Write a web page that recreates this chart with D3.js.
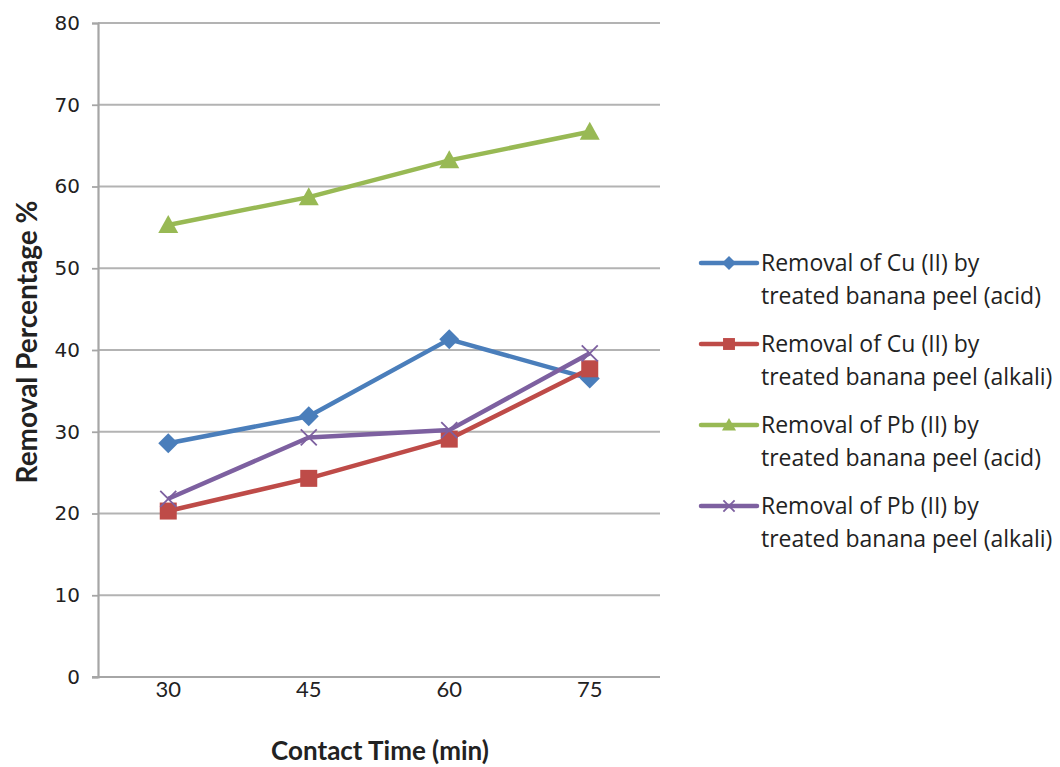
<!DOCTYPE html>
<html lang="en"><head>
<meta charset="utf-8">
<title>Removal percentage vs contact time</title>
<script src="https://cdn.jsdelivr.net/npm/d3@7"></script>
<style>
  body { margin: 0; background: #fff; }
  text { font-family: "Open Sans", "DejaVu Sans", sans-serif; fill: #222; }
</style>
</head>
<body>
<svg id="chart" width="1060" height="767"></svg>
<script>
// data
const times = ["30", "45", "60", "75"];
const cuAcid = [28.6, 31.9, 41.3, 36.5];
const cuAlkali = [20.3, 24.3, 29.1, 37.7];
const pbAcid = [55.3, 58.7, 63.2, 66.7];
const pbAlkali = [21.8, 29.3, 30.2, 39.6];
const seriesNames = [
  ["Removal of Cu (II) by", "treated banana peel (acid)"],
  ["Removal of Cu (II) by", "treated banana peel (alkali)"],
  ["Removal of Pb (II) by", "treated banana peel (acid)"],
  ["Removal of Pb (II) by", "treated banana peel (alkali)"]
];
const yTicks = [0, 10, 20, 30, 40, 50, 60, 70, 80];

const series = [
  {name: seriesNames[0], values: cuAcid, color: "#4a7ebb", shape: "diamond"},
  {name: seriesNames[1], values: cuAlkali, color: "#be4b48", shape: "square"},
  {name: seriesNames[2], values: pbAcid, color: "#98b954", shape: "triangle"},
  {name: seriesNames[3], values: pbAlkali, color: "#7d60a0", shape: "cross"}
];

const svg = d3.select("#chart");
const plotLeft = 98, plotRight = 660, plotTop = 23, plotBottom = 677;

let x = d3.scaleBand().domain(times).range([plotLeft, plotRight]);
let y = d3.scaleLinear().domain([0, 80]).range([plotBottom, plotTop]);

// gridlines
svg.append("g")
  .selectAll("line")
  .data(yTicks.slice(1)).enter()
  .append("line")
  .attr("x1", plotLeft).attr("x2", plotRight)
  .attr("y1", d => y(d)).attr("y2", d => y(d))
  .attr("stroke", "#b3b3b3").attr("stroke-width", 1.8);

// y axis
let yAxis = svg.append("g")
  .attr("transform", `translate(${plotLeft},0)`)
  .call(d3.axisLeft(y).tickValues(yTicks).tickSize(6).tickPadding(12));
yAxis.select(".domain").attr("stroke", "#a6a6a6").attr("stroke-width", 2.2);
yAxis.selectAll(".tick line").attr("stroke", "#a6a6a6").attr("stroke-width", 1.8);
yAxis.selectAll(".tick text")
  .style("font-family", "'DejaVu Sans', sans-serif")
  .style("font-size", "20px").attr("fill", "#333");

// x axis
let xAxis = svg.append("g")
  .attr("transform", `translate(0,${plotBottom})`)
  .call(d3.axisBottom(x).tickSize(0).tickPadding(4));
xAxis.select(".domain").attr("stroke", "#a6a6a6").attr("stroke-width", 2.2)
  .attr("d", `M${plotLeft - 6},0H${plotRight}`);
xAxis.selectAll(".tick text")
  .style("font-family", "Lato, sans-serif")
  .style("font-size", "22px").attr("fill", "#222");

// axis titles
svg.append("text")
  .attr("transform", "translate(37,342) rotate(-90)")
  .attr("text-anchor", "middle")
  .style("font-family", "Lato, sans-serif")
  .style("font-size", "28px").style("font-weight", "bold")
  .text("Removal Percentage %");
svg.append("text")
  .attr("x", 380).attr("y", 760)
  .attr("text-anchor", "middle")
  .style("font-family", "Lato, sans-serif")
  .style("font-size", "26px").style("font-weight", "bold")
  .text("Contact Time (min)");

function marker(g, shape, color, s) {
  if (shape === "diamond") {
    g.append("path").attr("d", `M0,${-s}L${s},0L0,${s}L${-s},0Z`).attr("fill", color);
  } else if (shape === "square") {
    g.append("rect").attr("x", -s * 0.85).attr("y", -s * 0.85)
      .attr("width", s * 1.7).attr("height", s * 1.7).attr("fill", color);
  } else if (shape === "triangle") {
    g.append("path").attr("d", `M0,${-s}L${s},${s * 0.8}L${-s},${s * 0.8}Z`).attr("fill", color);
  } else {
    g.append("path").attr("d", `M${-s * 0.8},${-s * 0.8}L${s * 0.8},${s * 0.8}M${s * 0.8},${-s * 0.8}L${-s * 0.8},${s * 0.8}`)
      .attr("stroke", color).attr("stroke-width", 1.8);
  }
}

let line = d3.line()
  .x((d, i) => x(times[i]) + x.bandwidth() / 2)
  .y(d => y(d));

series.forEach(s => {
  svg.append("path")
    .attr("d", line(s.values))
    .attr("fill", "none")
    .attr("stroke", s.color)
    .attr("stroke-width", 4.5)
    .attr("stroke-linejoin", "round");
  s.values.forEach((v, i) => {
    let g = svg.append("g")
      .attr("transform", `translate(${x(times[i]) + x.bandwidth() / 2},${y(v)})`);
    marker(g, s.shape, s.color, 10);
  });
});

// legend
let legend = svg.append("g");
series.forEach((s, i) => {
  let ly = 263 + i * 81;
  legend.append("line")
    .attr("x1", 701).attr("x2", 757).attr("y1", ly).attr("y2", ly)
    .attr("stroke", s.color).attr("stroke-width", 4.5).attr("stroke-linecap", "round");
  let g = legend.append("g").attr("transform", `translate(729,${ly})`);
  marker(g, s.shape, s.color, 7);
  legend.append("text")
    .attr("x", 761).attr("y", ly + 8)
    .style("font-size", "23px")
    .text(s.name[0]);
  legend.append("text")
    .attr("x", 761).attr("y", ly + 41)
    .style("font-size", "23px")
    .text(s.name[1]);
});
</script>
</body>
</html>
